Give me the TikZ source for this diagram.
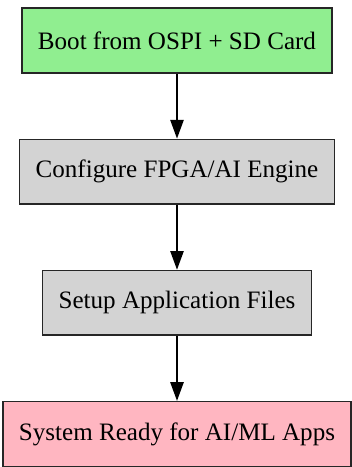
\documentclass[tikz,border=0pt]{standalone}
\usepackage{fontspec}
\setmainfont{Liberation Serif}
\usetikzlibrary{positioning, arrows.meta}

\definecolor{bootgreen}{HTML}{90EE90}
\definecolor{stagegray}{HTML}{D3D3D3}
\definecolor{readypink}{HTML}{FFB6C1}

\begin{document}
\begin{tikzpicture}[
    x=0.75pt, y=0.75pt,
    stagebox/.style={
        rectangle,
        draw=black!85, line width=1.1pt,
        minimum height=48.5pt,
        inner xsep=12pt,
        font=\fontsize{18.8pt}{21pt}\selectfont,
        text centered
    },
    flow/.style={
        -{Triangle[length=14pt, width=10pt]}, line width=1.1pt
    }
]

\useasboundingbox (0,0) rectangle (352,-467);

\node[stagebox, fill=bootgreen] (boot) at (177,-40.5) {Boot from OSPI + SD Card};
\node[stagebox, fill=stagegray, below=48.75pt of boot] (fpga) {Configure FPGA/AI Engine};
\node[stagebox, fill=stagegray, below=48.75pt of fpga] (apps) {Setup Application Files};
\node[stagebox, fill=readypink, below=48.75pt of apps] (ready) {System Ready for AI/ML Apps};

\draw[flow] (boot) -- (fpga);
\draw[flow] (fpga) -- (apps);
\draw[flow] (apps) -- (ready);

\end{tikzpicture}
\end{document}
